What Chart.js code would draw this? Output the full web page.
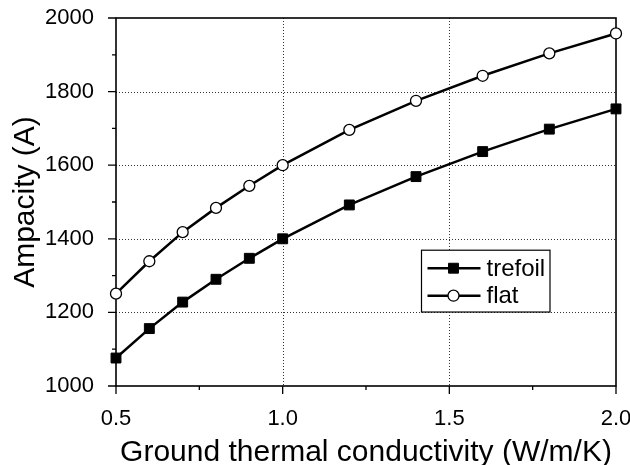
<!DOCTYPE html>
<html><head><meta charset="utf-8">
<script src="https://cdn.jsdelivr.net/npm/chart.js@4/dist/chart.umd.min.js"></script>
<style>html,body{margin:0;padding:0;background:#fff}#wrap{width:630px;height:465px}</style>
</head><body><div id="wrap"><canvas id="c" width="630" height="465"></canvas></div>
<script>
const conductivity = [0.5, 0.6, 0.7, 0.8, 0.9, 1.0, 1.2, 1.4, 1.6, 1.8, 2.0];
const trefoil = [1076, 1156, 1228, 1290, 1347, 1400, 1492, 1569, 1637, 1698, 1753];
const flat = [1251, 1339, 1418, 1484, 1544, 1600, 1696, 1775, 1843, 1904, 1958];
const seriesNames = ['trefoil', 'flat'];
const xTitle = 'Ground thermal conductivity (W/m/K)';
const yTitle = 'Ampacity (A)';

const FONT = "'Liberation Sans', Arial, sans-serif";

const decorPlugin = {
  id: 'decor',
  beforeDatasetsDraw(chart) {
    const {ctx, chartArea: a, scales: {x, y}} = chart;
    ctx.save();
    ctx.strokeStyle = '#333';
    ctx.lineWidth = 1;
    ctx.setLineDash([1, 2]);
    ctx.beginPath();
    x.ticks.forEach(t => {
      if (t.value > x.min && t.value < x.max) {
        const p = Math.round(x.getPixelForValue(t.value)) + 0.5;
        ctx.moveTo(p, a.top); ctx.lineTo(p, a.bottom);
      }
    });
    y.ticks.forEach(t => {
      if (t.value > y.min && t.value < y.max) {
        const p = Math.round(y.getPixelForValue(t.value)) + 0.5;
        ctx.moveTo(a.left, p); ctx.lineTo(a.right, p);
      }
    });
    ctx.stroke();
    ctx.setLineDash([]);
    ctx.strokeStyle = '#000';
    ctx.lineWidth = 1.6;
    ctx.strokeRect(a.left, a.top, a.right - a.left, a.bottom - a.top);
    ctx.lineWidth = 1.3;
    ctx.beginPath();
    x.ticks.forEach((t, i) => {
      const p = x.getPixelForValue(t.value);
      ctx.moveTo(p, a.bottom); ctx.lineTo(p, a.bottom + 8);
      if (i < x.ticks.length - 1) {
        const m = x.getPixelForValue((t.value + x.ticks[i + 1].value) / 2);
        ctx.moveTo(m, a.bottom); ctx.lineTo(m, a.bottom + 4);
      }
    });
    y.ticks.forEach((t, i) => {
      const p = y.getPixelForValue(t.value);
      ctx.moveTo(a.left, p); ctx.lineTo(a.left - 8, p);
      if (i < y.ticks.length - 1) {
        const m = y.getPixelForValue((t.value + y.ticks[i + 1].value) / 2);
        ctx.moveTo(a.left, m); ctx.lineTo(a.left - 4, m);
      }
    });
    ctx.stroke();
    ctx.restore();
  },
  afterDraw(chart) {
    const {ctx, chartArea: a} = chart;
    const w = a.right - a.left, h = a.bottom - a.top;
    const bx = a.left + 0.611 * w, by = a.top + 0.631 * h;
    const bw = 0.257 * w, bh = 0.168 * h;
    ctx.save();
    ctx.fillStyle = '#fff';
    ctx.fillRect(bx, by, bw, bh);
    ctx.strokeStyle = '#000';
    ctx.lineWidth = 1.2;
    ctx.strokeRect(bx, by, bw, bh);
    chart.data.datasets.forEach((ds, i) => {
      const ry = by + 18 + i * 27.5;
      const lx0 = bx + 6, lx1 = bx + 59, mx = bx + 32;
      ctx.strokeStyle = ds.borderColor;
      ctx.lineWidth = ds.borderWidth;
      ctx.beginPath(); ctx.moveTo(lx0, ry); ctx.lineTo(lx1, ry); ctx.stroke();
      ctx.fillStyle = ds.pointBackgroundColor;
      ctx.strokeStyle = ds.pointBorderColor;
      ctx.lineWidth = ds.pointBorderWidth;
      Chart.helpers.drawPoint(ctx, {pointStyle: ds.pointStyle, radius: ds.pointRadius, rotation: 0, borderWidth: ds.pointBorderWidth}, mx, ry);
      ctx.fillStyle = '#000';
      ctx.font = '24px ' + FONT;
      ctx.textBaseline = 'middle';
      ctx.textAlign = 'left';
      ctx.fillText(ds.label, bx + 65, ry + 1);
    });
    ctx.restore();
  }
};

const mk = (arr) => conductivity.map((c, i) => ({x: c, y: arr[i]}));

new Chart(document.getElementById('c'), {
  type: 'line',
  data: {
    datasets: [
      {label: seriesNames[0], data: mk(trefoil), borderColor: '#000', borderWidth: 2.5,
       pointStyle: 'rect', pointRadius: 7, pointBackgroundColor: '#000', pointBorderColor: '#000', pointBorderWidth: 1,
       tension: 0, clip: false},
      {label: seriesNames[1], data: mk(flat), borderColor: '#000', borderWidth: 2.5,
       pointStyle: 'circle', pointRadius: 5.5, pointBackgroundColor: '#fff', pointBorderColor: '#000', pointBorderWidth: 1.3,
       tension: 0, clip: false}
    ]
  },
  options: {
    responsive: false,
    animation: false,
    layout: {padding: {left: 11, right: 14, top: 18, bottom: 0}},
    plugins: {legend: {display: false}, tooltip: {enabled: false}},
    scales: {
      x: {
        type: 'linear', min: 0.5, max: 2.0,
        grid: {display: false}, border: {display: false},
        ticks: {stepSize: 0.5, padding: 12, color: '#000', font: {family: FONT, size: 22},
                maxRotation: 0, callback: v => v.toFixed(1)},
        title: {display: true, text: xTitle, color: '#000', font: {family: FONT, size: 30, lineHeight: 0.85}, padding: 0},
        afterFit: s => { s.height = 79; s.paddingLeft = 0; s.paddingRight = 0; }
      },
      y: {
        type: 'linear', min: 1000, max: 2000,
        grid: {display: false}, border: {display: false},
        ticks: {stepSize: 200, padding: 14, color: '#000', font: {family: FONT, size: 22},
                callback: v => String(v)},
        title: {display: true, text: yTitle, color: '#000', font: {family: FONT, size: 30, lineHeight: 1}, padding: 0},
        afterFit: s => { s.width = 105; s.paddingTop = 0; s.paddingBottom = 0; }
      }
    }
  },
  plugins: [decorPlugin]
});
</script></body></html>
